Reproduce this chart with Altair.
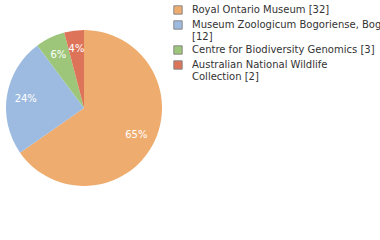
import altair as alt
import pandas as pd

institutions = [
    "Royal Ontario Museum",
    "Museum Zoologicum Bogoriense, Bogor",
    "Centre for Biodiversity Genomics",
    "Australian National Wildlife Collection",
]
counts = [32, 12, 3, 2]
legend_labels = [
    "Royal Ontario Museum [32]",
    "Museum Zoologicum Bogoriense, Bogor\n[12]",
    "Centre for Biodiversity Genomics [3]",
    "Australian National Wildlife\nCollection [2]",
]
colors = ["#efac6f", "#9dbbe0", "#9dc67a", "#dd745a"]

df = pd.DataFrame({
    "institution": institutions,
    "count": counts,
    "label": legend_labels,
    "order": list(range(len(institutions))),
})

base = alt.Chart(df).encode(
    theta=alt.Theta("count:Q", stack=True),
    order=alt.Order("order:Q"),
)

color = alt.Color(
    "label:N",
    sort=legend_labels,
    scale=alt.Scale(domain=legend_labels, range=colors),
    legend=alt.Legend(
        title=None,
        orient="none",
        legendX=173,
        legendY=5,
        symbolType="square",
        symbolSize=70,
        symbolStrokeColor="#888888",
        symbolStrokeWidth=1,
        labelExpr="split(datum.label, '\\n')",
        labelLimit=0,
        labelFont="DejaVu Sans",
        labelFontSize=10,
        labelColor="#333333",
        labelOffset=9,
        rowPadding=1,
    ),
)

pie = base.mark_arc(outerRadius=78).encode(color=color)

text = base.transform_joinaggregate(total="sum(count)").transform_calculate(
    pct="floor(datum.count / datum.total * 100) + '%'"
).mark_text(radius=59, font="DejaVu Sans", fontSize=10, color="white").encode(
    text="pct:N"
)

chart = (pie + text).properties(
    width=168, height=216, padding={"left": 0, "top": 0, "right": 212, "bottom": 24}
).configure_view(stroke=None).properties(autosize=alt.AutoSizeParams(type="none"))

chart.save("out.html", embed_options={"renderer": "svg", "actions": False})
